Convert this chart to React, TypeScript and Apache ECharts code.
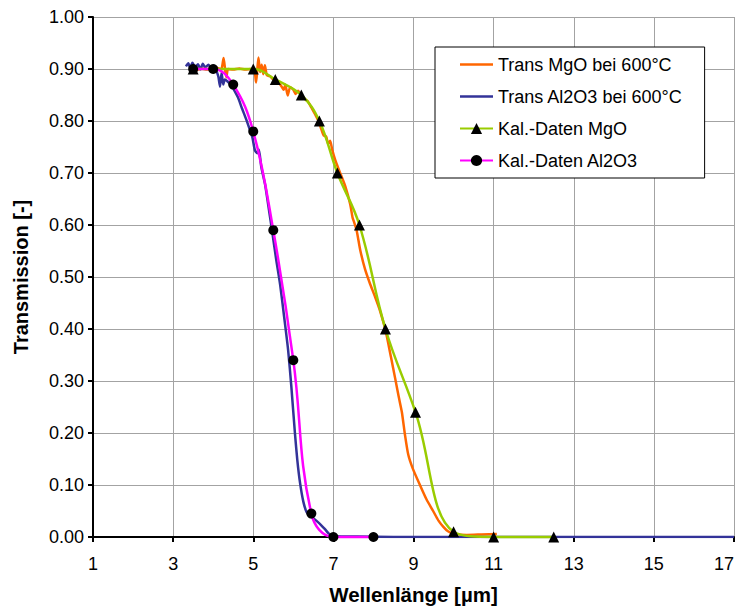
import React, { useEffect, useRef } from "react";
import * as echarts from "echarts";

const xTicks = [1, 3, 5, 7, 9, 11, 13, 15, 17];

const transMgO: [number, number][] = [
  [3.40, 0.900], [3.55, 0.897], [3.70, 0.901], [3.85, 0.899], [4.00, 0.900], [4.10, 0.902],
  [4.20, 0.899], [4.26, 0.921], [4.30, 0.897], [4.33, 0.884], [4.37, 0.900], [4.50, 0.899],
  [4.65, 0.901], [4.80, 0.899], [4.95, 0.900], [5.03, 0.898], [5.07, 0.874], [5.10, 0.898],
  [5.13, 0.922], [5.17, 0.894], [5.21, 0.908], [5.25, 0.890], [5.29, 0.907], [5.34, 0.888],
  [5.42, 0.886], [5.50, 0.880], [5.58, 0.878], [5.65, 0.872], [5.71, 0.866], [5.76, 0.860],
  [5.80, 0.870], [5.86, 0.849], [5.92, 0.865], [6.00, 0.860], [6.06, 0.852], [6.12, 0.858],
  [6.20, 0.849], [6.29, 0.842], [6.36, 0.838], [6.45, 0.826], [6.55, 0.812], [6.63, 0.800],
  [6.70, 0.784], [6.76, 0.772], [6.82, 0.770], [6.87, 0.756], [6.92, 0.762], [6.97, 0.745],
  [7.05, 0.724], [7.15, 0.704], [7.30, 0.674], [7.42, 0.640], [7.48, 0.614], [7.52, 0.605],
  [7.58, 0.590], [7.67, 0.552], [7.79, 0.515], [7.91, 0.488], [8.04, 0.462], [8.16, 0.436],
  [8.30, 0.398], [8.44, 0.345], [8.54, 0.306], [8.63, 0.270], [8.71, 0.240], [8.79, 0.195],
  [8.87, 0.158], [8.98, 0.132], [9.16, 0.100], [9.32, 0.073], [9.49, 0.050], [9.62, 0.032],
  [9.74, 0.020], [9.86, 0.011], [9.99, 0.007], [10.33, 0.004], [10.70, 0.005], [11.08, 0.006],
];

const transAl2O3: [number, number][] = [
  [3.32, 0.905], [3.38, 0.911], [3.43, 0.901], [3.48, 0.912], [3.55, 0.904], [3.62, 0.909],
  [3.68, 0.899], [3.74, 0.910], [3.80, 0.903], [3.88, 0.908], [3.95, 0.902], [4.03, 0.906],
  [4.08, 0.897], [4.13, 0.885], [4.17, 0.866], [4.21, 0.893], [4.25, 0.870], [4.29, 0.880],
  [4.36, 0.876], [4.44, 0.870], [4.52, 0.860], [4.62, 0.845], [4.72, 0.824], [4.82, 0.804],
  [4.92, 0.782], [4.98, 0.768], [5.04, 0.744], [5.10, 0.738], [5.14, 0.745], [5.20, 0.712],
  [5.30, 0.676], [5.40, 0.625], [5.47, 0.589], [5.57, 0.535], [5.67, 0.486], [5.77, 0.424],
  [5.87, 0.360], [5.95, 0.290], [6.04, 0.200], [6.10, 0.148], [6.17, 0.103], [6.25, 0.068],
  [6.33, 0.048], [6.42, 0.040], [6.50, 0.036], [6.58, 0.031], [6.68, 0.024], [6.79, 0.015],
  [6.88, 0.007], [6.96, 0.003], [7.20, 0.001], [7.60, 0.001], [8.50, 0.000], [10.0, 0.000],
  [12.0, 0.000], [14.0, 0.000], [17.0, 0.000],
];

const calMgO: [number, number][] = [
  [3.5, 0.90], [5.0, 0.90], [5.55, 0.88], [6.2, 0.85], [6.65, 0.80], [7.1, 0.70],
  [7.65, 0.60], [8.3, 0.40], [9.05, 0.24], [10.0, 0.01], [11.0, 0.0], [12.5, 0.0],
];

const calAl2O3: [number, number][] = [
  [3.5, 0.90], [4.0, 0.90], [4.5, 0.87], [5.0, 0.78], [5.5, 0.59], [6.0, 0.34],
  [6.45, 0.045], [7.0, 0.0], [8.0, 0.0],
];

const FONT = "Arial, 'Liberation Sans', sans-serif";
const LINE_ICON = "path://M0,0 L40,0 L40,3 L0,3 Z";

export default function App() {
  const ref = useRef<HTMLDivElement>(null);
  useEffect(() => {
    if (!ref.current) return;
    const chart = echarts.init(ref.current, undefined, { renderer: "svg" });
    chart.setOption({
      animation: false,
      backgroundColor: "#ffffff",
      textStyle: { fontFamily: FONT },
      grid: { left: 93, top: 17, right: 6, bottom: 69, containLabel: false, outerBoundsMode: "none" },
      legend: {
        orient: "vertical",
        left: 435,
        top: 47,
        backgroundColor: "#ffffff",
        borderColor: "#000000",
        borderWidth: 1,
        padding: [8, 22, 8, 24],
        itemGap: 13,
        itemWidth: 33,
        itemHeight: 14,
        textStyle: { fontFamily: FONT, fontSize: 18, color: "#000", lineHeight: 19 },
        data: [
          { name: "Trans MgO bei 600°C", icon: LINE_ICON },
          { name: "Trans Al2O3 bei 600°C", icon: LINE_ICON },
          { name: "Kal.-Daten MgO" },
          { name: "Kal.-Daten Al2O3" },
        ],
      },
      xAxis: {
        type: "value",
        min: 1,
        max: 17,
        name: "Wellenlänge [µm]",
        nameLocation: "middle",
        nameGap: 47,
        nameTextStyle: { fontFamily: FONT, fontSize: 20.5, fontWeight: "bold", color: "#000" },
        axisLine: { show: true, onZero: false, lineStyle: { color: "#000", width: 2 } },
        axisTick: { show: true, customValues: xTicks, length: 5, lineStyle: { color: "#000", width: 2 } },
        axisLabel: {
          customValues: xTicks,
          fontSize: 18,
          color: "#000",
          margin: 18,
          fontFamily: FONT,
          alignMaxLabel: "right",
        },
        splitLine: { show: true, lineStyle: { color: "#a3a3a3", width: 1 } },
      },
      yAxis: {
        type: "value",
        min: 0,
        max: 1,
        interval: 0.1,
        name: "Transmission [-]",
        nameLocation: "middle",
        nameGap: 62,
        nameTextStyle: { fontFamily: FONT, fontSize: 20, fontWeight: "bold", color: "#000" },
        axisLine: { show: true, lineStyle: { color: "#000", width: 2 } },
        axisTick: { show: true, length: 5, lineStyle: { color: "#000", width: 2 } },
        axisLabel: {
          fontSize: 18,
          color: "#000",
          margin: 9,
          fontFamily: FONT,
          formatter: (v: number) => v.toFixed(2),
        },
        splitLine: { show: true, lineStyle: { color: "#a3a3a3", width: 1 } },
      },
      series: [
        {
          name: "Trans MgO bei 600°C",
          type: "line",
          data: transMgO,
          showSymbol: false,
          symbol: "none",
          smooth: 0.2,
          lineStyle: { color: "#ff6600", width: 2.5 },
          itemStyle: { color: "#ff6600" },
        },
        {
          name: "Trans Al2O3 bei 600°C",
          type: "line",
          data: transAl2O3,
          showSymbol: false,
          symbol: "none",
          smooth: 0.2,
          lineStyle: { color: "#333399", width: 2.5 },
          itemStyle: { color: "#333399" },
        },
        {
          name: "Kal.-Daten MgO",
          type: "line",
          data: calMgO,
          symbol: "triangle",
          symbolSize: 11,
          smooth: 0.4,
          clip: false,
          lineStyle: { color: "#99cc00", width: 2.5 },
          itemStyle: { color: "#000000" },
          z: 3,
        },
        {
          name: "Kal.-Daten Al2O3",
          type: "line",
          data: calAl2O3,
          symbol: "circle",
          symbolSize: 10,
          smooth: 0.4,
          clip: false,
          lineStyle: { color: "#ff00ff", width: 2.5 },
          itemStyle: { color: "#000000" },
          z: 3,
        },
      ],
    });
    return () => chart.dispose();
  }, []);
  return (
    <div
      ref={ref}
      style={{ position: "fixed", left: 0, top: 0, width: 740, height: 606, background: "#fff" }}
    />
  );
}
